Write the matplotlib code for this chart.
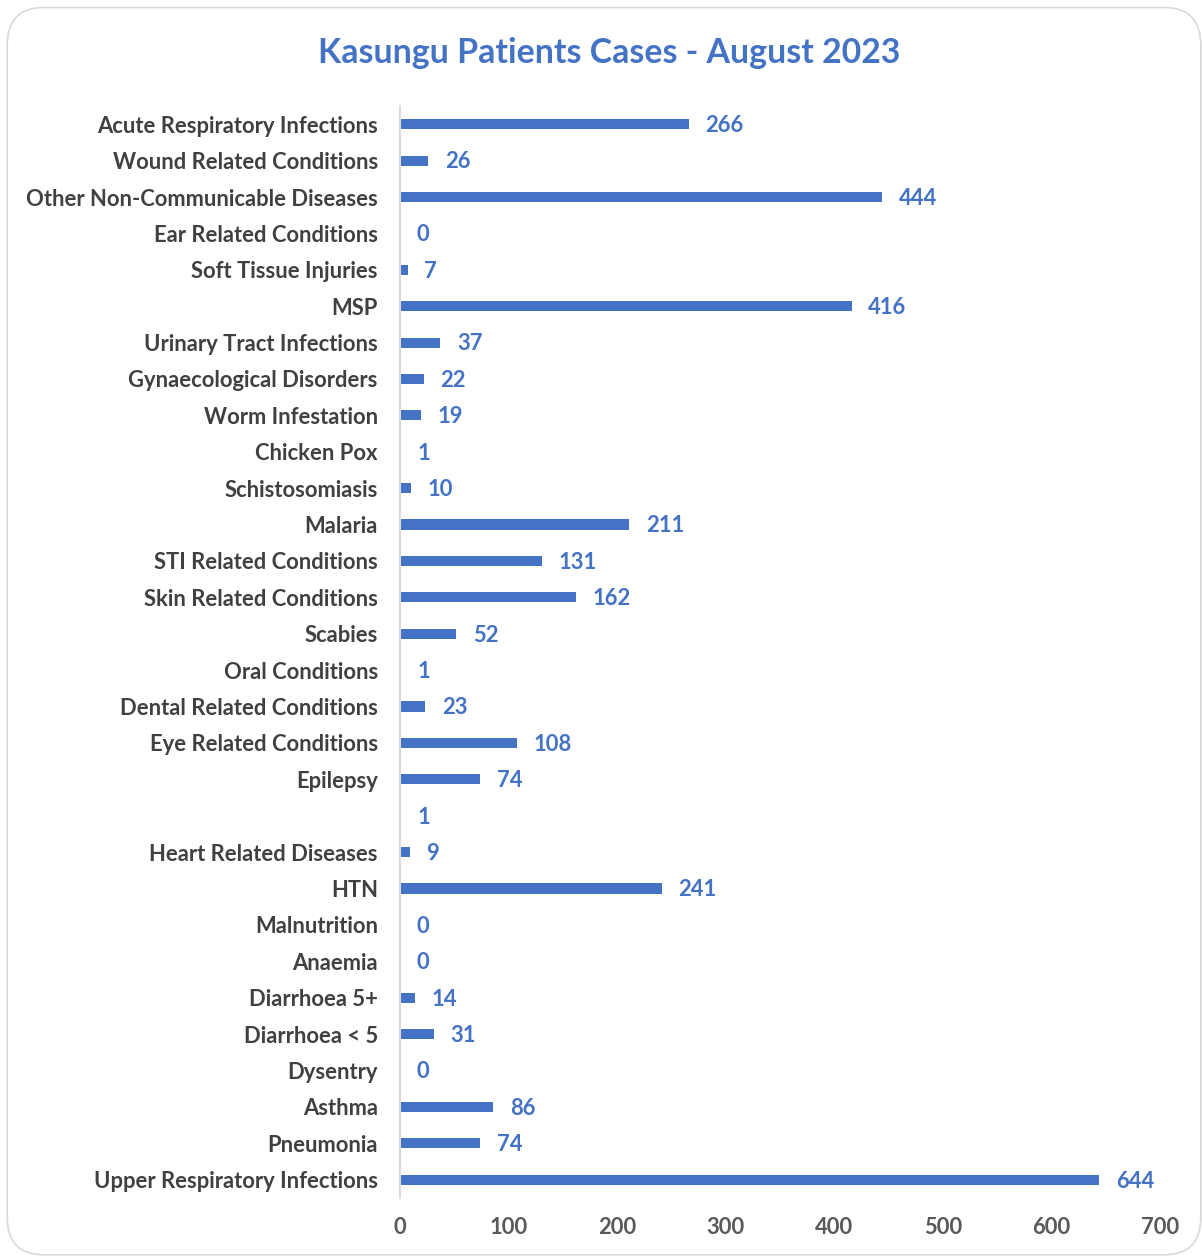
import matplotlib
matplotlib.use("Agg")
import matplotlib.pyplot as plt
from matplotlib.patches import FancyBboxPatch

categories = [
    "Acute Respiratory Infections", "Wound Related Conditions", "Other Non-Communicable Diseases",
    "Ear Related Conditions", "Soft Tissue Injuries", "MSP", "Urinary Tract Infections",
    "Gynaecological Disorders", "Worm Infestation", "Chicken Pox", "Schistosomiasis", "Malaria",
    "STI Related Conditions", "Skin Related Conditions", "Scabies", "Oral Conditions",
    "Dental Related Conditions", "Eye Related Conditions", "Epilepsy", "",
    "Heart Related Diseases", "HTN", "Malnutrition", "Anaemia", "Diarrhoea 5+",
    "Diarrhoea < 5", "Dysentry", "Asthma", "Pneumonia", "Upper Respiratory Infections",
]
values = [266, 26, 444, 0, 7, 416, 37, 22, 19, 1, 10, 211, 131, 162, 52, 1, 23, 108, 74, 1,
          9, 241, 0, 0, 14, 31, 0, 86, 74, 644]
xticks = [0, 100, 200, 300, 400, 500, 600, 700]

BLUE = "#4472C4"
FONT = "Lato"

fig = plt.figure(figsize=(12.02, 12.56), dpi=100)
fig.patch.set_facecolor("white")
border = FancyBboxPatch((0.006, 0.001), 0.993, 0.993, boxstyle="round,pad=0,rounding_size=0.03",
                        transform=fig.transFigure, facecolor="white", edgecolor="#d9d9d9",
                        linewidth=1.2, zorder=-1)
fig.patches.append(border)

ax = fig.add_axes([0.3328, 0.0462, 0.6322, 0.8694])
ypos = list(range(len(categories)))
ax.barh(ypos, values, height=0.28, color=BLUE)
ax.set_ylim(len(categories) - 0.5, -0.5)
ax.set_xlim(0, 700)
ax.set_yticks(ypos)
ax.set_yticklabels(categories, fontsize=15.8, fontweight="bold", color="#404040", family=FONT)
ax.set_xticks(xticks)
ax.set_xticklabels([str(t) for t in xticks], fontsize=15.8, fontweight="bold", color="#595959", family=FONT)
ax.tick_params(axis="y", length=0, pad=16)
ax.tick_params(axis="x", length=0, pad=14)
for s in ["top", "right", "bottom"]:
    ax.spines[s].set_visible(False)
ax.spines["left"].set_color("#d9d9d9")
ax.spines["left"].set_linewidth(1.5)

for y, v in zip(ypos, values):
    ax.annotate(str(v), xy=(v, y), xytext=(12, -1), textcoords="offset points",
                ha="left", va="center", fontsize=15.8, fontweight="bold", color=BLUE, family=FONT)

fig.text(0.5065, 0.958, "Kasungu Patients Cases - August 2023", ha="center", va="center",
         fontsize=24.4, fontweight="bold", color=BLUE, family=FONT)

fig.savefig("out.png", dpi=100)
